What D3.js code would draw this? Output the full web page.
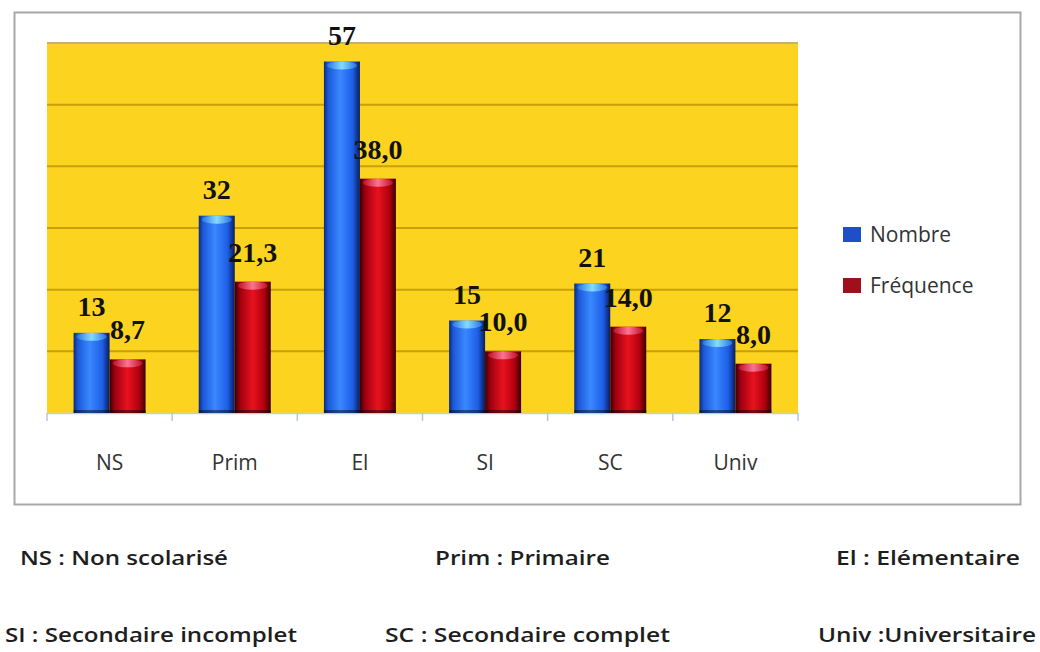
<!DOCTYPE html>
<html>
<head>
<meta charset="utf-8">
<script src="https://cdn.jsdelivr.net/npm/d3@7"></script>
<style>
  html, body { margin: 0; padding: 0; background: #fff; }
  svg { display: block; }
</style>
</head>
<body>
<svg id="chart" width="1040" height="652"></svg>
<script>
// Niveau d'instruction : effectif et fréquence (%)
const categories = ["NS", "Prim", "El", "SI", "SC", "Univ"];
const nombre = [13, 32, 57, 15, 21, 12];
const frequence = [8.7, 21.3, 38.0, 10.0, 14.0, 8.0];
const seriesNames = ["Nombre", "Fréquence"];
const yTicks = [0, 10, 20, 30, 40, 50, 60];
const notesRow1 = ["NS : Non scolarisé", "Prim : Primaire", "El : Elémentaire"];
const notesRow2 = ["SI : Secondaire incomplet", "SC : Secondaire complet", "Univ :Universitaire"];

const svg = d3.select("#chart");
const defs = svg.append("defs");

// Cylinder-like horizontal shading for each series
function hGrad(id, stops) {
  const g = defs.append("linearGradient").attr("id", id)
    .attr("x1", "0%").attr("x2", "100%").attr("y1", "0%").attr("y2", "0%");
  stops.forEach(([o, c]) => g.append("stop").attr("offset", o).attr("stop-color", c));
}
hGrad("gBlue", [["0%", "#0b2a7a"], ["12%", "#1c58d8"], ["45%", "#3a88ff"], ["80%", "#1d5ee6"], ["100%", "#0a1c5c"]]);
hGrad("gRed", [["0%", "#3a0000"], ["15%", "#a00010"], ["50%", "#e8121e"], ["82%", "#b0000e"], ["100%", "#380000"]]);
hGrad("gBlueCap", [["0%", "#2a78e0"], ["50%", "#8ee4ff"], ["100%", "#2a78e0"]]);
hGrad("gRedCap", [["0%", "#c0102a"], ["50%", "#ff7fa0"], ["100%", "#c0102a"]]);

// Outer frame
svg.append("rect")
  .attr("x", 14.5).attr("y", 12.5).attr("width", 1006).attr("height", 492)
  .attr("fill", "#fff").attr("stroke", "#a8a8a8").attr("stroke-width", 2);

// Plot area
const plot = { left: 47, right: 798, top: 43, bottom: 413 };

const x0 = d3.scaleBand().domain(categories).range([plot.left, plot.right]).padding(0);
const groupW = 72;
const x1 = d3.scaleBand().domain(seriesNames)
  .range([x0.bandwidth() / 2 - groupW / 2, x0.bandwidth() / 2 + groupW / 2]).padding(0);
const y = d3.scaleLinear().domain([0, 60]).range([plot.bottom, plot.top]);

svg.append("rect")
  .attr("x", plot.left).attr("y", plot.top)
  .attr("width", plot.right - plot.left).attr("height", plot.bottom - plot.top)
  .attr("fill", "#fcd41f");

// Horizontal gridlines
svg.append("g")
  .selectAll("line")
  .data(yTicks.filter(t => t > 0))
  .join("line")
  .attr("x1", plot.left).attr("x2", plot.right)
  .attr("y1", d => y(d)).attr("y2", d => y(d))
  .attr("stroke", d => d === 60 ? "#c4b070" : "#c99f0a")
  .attr("stroke-width", 2);

// Category axis
const xAxis = svg.append("g")
  .attr("transform", `translate(0,${plot.bottom})`)
  .call(d3.axisBottom(x0).tickSize(0).tickPadding(0));
xAxis.select(".domain").attr("stroke", "#c4ccd8").attr("stroke-width", 1.5);
xAxis.selectAll(".tick text").remove();

// Tick marks on band boundaries
const bounds = categories.map(c => x0(c)).concat([plot.right]);
svg.append("g").selectAll("line").data(bounds).join("line")
  .attr("x1", d => d).attr("x2", d => d)
  .attr("y1", plot.bottom).attr("y2", plot.bottom + 8)
  .attr("stroke", "#b8c6dc").attr("stroke-width", 1.5);

// Category labels
svg.append("g").selectAll("text").data(categories).join("text")
  .attr("x", d => x0(d) + x0.bandwidth() / 2)
  .attr("y", 470)
  .attr("text-anchor", "middle")
  .attr("font-family", "'Open Sans', sans-serif")
  .attr("font-size", 21)
  .attr("fill", "#333")
  .text(d => d);

// Bars
const rows = categories.map((c, i) => ({ cat: c, vals: [
  { s: "Nombre", v: nombre[i], fill: "url(#gBlue)", cap: "url(#gBlueCap)", label: d3.format("d")(nombre[i]) },
  { s: "Fréquence", v: frequence[i], fill: "url(#gRed)", cap: "url(#gRedCap)", label: d3.format(".1f")(frequence[i]).replace(".", ",") }
]}));

const groups = svg.append("g").selectAll("g").data(rows).join("g")
  .attr("transform", d => `translate(${x0(d.cat)},0)`);

const bar = groups.selectAll("g").data(d => d.vals).join("g");

bar.append("rect")
  .attr("x", d => x1(d.s))
  .attr("y", d => y(d.v))
  .attr("width", x1.bandwidth())
  .attr("height", d => y(0) - y(d.v))
  .attr("fill", d => d.fill);

// dark base line of each bar
bar.append("rect")
  .attr("x", d => x1(d.s))
  .attr("y", y(0) - 3)
  .attr("width", x1.bandwidth())
  .attr("height", 3)
  .attr("fill", "#000").attr("opacity", 0.45);

// light cap on top
bar.append("ellipse")
  .attr("cx", d => x1(d.s) + x1.bandwidth() / 2)
  .attr("cy", d => y(d.v) + 4)
  .attr("rx", x1.bandwidth() / 2 - 3)
  .attr("ry", 4)
  .attr("fill", d => d.cap)
  .attr("opacity", 0.9);

// Value labels
bar.append("text")
  .attr("x", d => x1(d.s) + x1.bandwidth() / 2)
  .attr("y", d => y(d.v) - (d.s === "Nombre" ? 17 : 20))
  .attr("text-anchor", "middle")
  .attr("font-family", "'Liberation Serif', 'Times New Roman', serif")
  .attr("font-weight", "bold")
  .attr("font-size", 28)
  .attr("fill", "#111")
  .text(d => d.label);

// Legend
const legendColors = ["#1f4fc8", "#a0101c"];
const lg = svg.append("g").selectAll("g").data(seriesNames).join("g")
  .attr("transform", (d, i) => `translate(843,${227 + i * 51})`);
lg.append("rect").attr("width", 18).attr("height", 15)
  .attr("fill", (d, i) => legendColors[i]);
lg.append("text").attr("x", 27).attr("y", 15)
  .attr("font-family", "'Open Sans', sans-serif")
  .attr("font-size", 21)
  .attr("fill", "#333")
  .text(d => d);

// Abbreviation notes
const noteRows = [
  { y: 565, items: notesRow1, xs: [20, 435, 836], ws: [208, 175, 184] },
  { y: 642, items: notesRow2, xs: [5, 385, 818], ws: [292, 285, 218] }
];
noteRows.forEach(r => {
  svg.append("g").selectAll("text").data(r.items).join("text")
    .attr("x", (d, i) => r.xs[i])
    .attr("y", r.y)
    .attr("textLength", (d, i) => r.ws[i])
    .attr("lengthAdjust", "spacingAndGlyphs")
    .attr("font-family", "'Open Sans', sans-serif")
    .attr("font-weight", 600)
    .attr("font-size", 20)
    .attr("fill", "#1e1e1e")
    .text(d => d);
});
</script>
</body>
</html>
